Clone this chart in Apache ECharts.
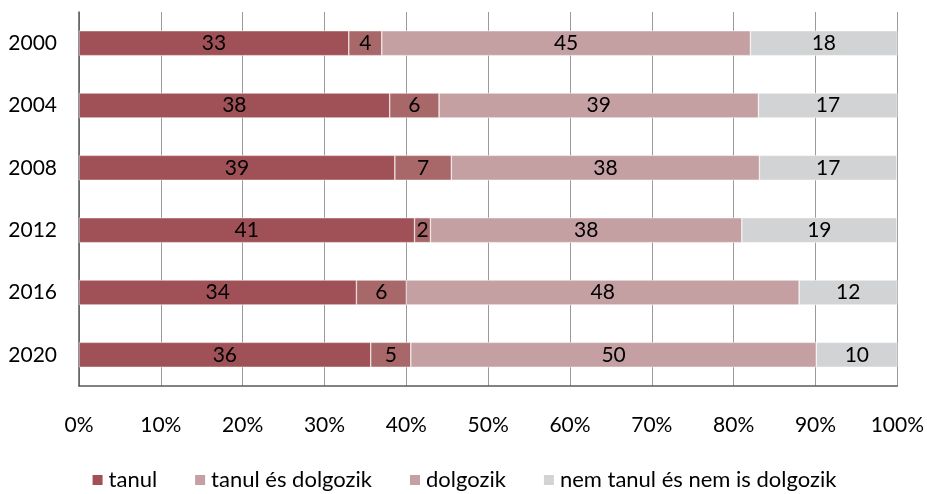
<!DOCTYPE html>
<html>
<head>
<meta charset="utf-8">
<script src="https://cdn.jsdelivr.net/npm/echarts@6/dist/echarts.min.js"></script>
<style>
  html, body { margin: 0; padding: 0; background: #fff; }
  #chart { width: 927px; height: 494px; }
</style>
</head>
<body>
<div id="chart"></div>
<script>
// évek (felülről lefelé)
const years = ['2000', '2004', '2008', '2012', '2016', '2020']
const seriesNames = ['tanul', 'tanul és dolgozik', 'dolgozik', 'nem tanul és nem is dolgozik']

// százalékos megoszlás
const tanul = [32.97, 37.97, 38.6, 41.0, 33.9, 35.65]
const tanulDolgozik = [4.03, 6.03, 6.9, 1.95, 6.1, 4.9]
const dolgozik = [45.05, 39.03, 37.65, 38.05, 48.0, 49.55]
const nemTanul = [17.95, 16.97, 16.8, 18.95, 12.0, 9.9]

const colors = ['#A05157', '#A8686A', '#C4A0A3', '#D2D3D5']
const legendColors = ['#A05157', '#C4A0A3', '#C4A0A3', '#D2D3D5']

const FONT = 'Lato'

const chart = echarts.init(document.getElementById('chart'))

const makeSeries = (name, data, idx) => ({
  name: name,
  type: 'bar',
  stack: 'total',
  data: data,
  barWidth: '40%',
  itemStyle: {
    color: colors[idx],
    borderColor: '#fff',
    borderWidth: 0.5
  },
  label: {
    show: true,
    position: 'inside',
    color: '#000',
    fontSize: 21,
    fontFamily: FONT,
    formatter: p => Math.round(p.value)
  }
})

chart.setOption({
  animation: false,
  grid: {
    left: 79,
    right: 29,
    top: 12,
    bottom: 108
  },
  legend: {
    bottom: -2,
    left: 'center',
    itemWidth: 12,
    itemHeight: 12,
    itemGap: 36,
    icon: 'rect',
    textStyle: { fontSize: 22, fontFamily: FONT, color: '#000', padding: [0, 0, 0, 0] },
    data: seriesNames.map((n, i) => ({ name: n, itemStyle: { color: legendColors[i] } }))
  },
  xAxis: {
    type: 'value',
    min: 0,
    max: 100,
    interval: 10,
    axisLine: { show: true, lineStyle: { color: '#595959', width: 1.5 } },
    axisTick: { show: false },
    axisLabel: {
      margin: 29,
      fontSize: 21,
      fontFamily: FONT,
      color: '#000',
      formatter: '{value}%'
    },
    splitLine: { show: true, lineStyle: { color: '#9a9a9a', width: 1 } }
  },
  yAxis: {
    type: 'category',
    data: years,
    inverse: true,
    axisLine: { show: true, lineStyle: { color: '#595959', width: 1.5 } },
    axisTick: { show: false },
    axisLabel: {
      margin: 22,
      fontSize: 21,
      fontFamily: FONT,
      color: '#000'
    }
  },
  series: [
    makeSeries(seriesNames[0], tanul, 0),
    makeSeries(seriesNames[1], tanulDolgozik, 1),
    makeSeries(seriesNames[2], dolgozik, 2),
    makeSeries(seriesNames[3], nemTanul, 3)
  ]
})

window.addEventListener('resize', () => chart.resize())
</script>
</body>
</html>
